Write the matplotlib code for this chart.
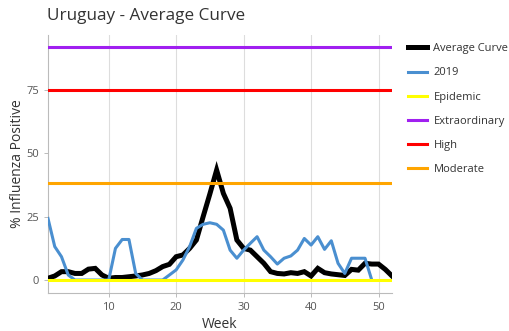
import numpy as np
import matplotlib
matplotlib.use("Agg")
import matplotlib.pyplot as plt

weeks = list(range(1, 53))
average_curve = [0.7, 1.6, 3.3, 3.3, 2.6, 2.6, 4.3, 4.6, 2.0, 0.7,
                 1.0, 1.0, 1.3, 1.6, 2.0, 2.6, 3.7, 5.3, 6.2, 9.2,
                 9.9, 12.5, 15.8, 25.0, 34.0, 43.4, 34.2, 28.3, 15.8, 12.5,
                 11.8, 9.2, 6.6, 3.3, 2.6, 2.4, 2.9, 2.6, 3.3, 1.6,
                 4.6, 2.9, 2.4, 2.1, 1.8, 4.2, 3.9, 6.6, 6.3, 6.3,
                 4.2, 1.6]
y2019 = [24.3, 13.2, 9.2, 2.0, 0, 0, 0, 0, 0, 0,
         12.5, 16.0, 16.0, 2.6, 0, 0, 0, 0, 2.0, 4.0,
         7.9, 13.2, 20.4, 22.0, 22.6, 22.0, 19.7, 11.8, 8.6, 11.8,
         14.5, 17.1, 11.8, 9.2, 6.3, 8.6, 9.5, 11.8, 16.4, 13.8,
         17.1, 12.1, 15.5, 6.6, 2.6, 8.6, 8.6, 8.6, 0, np.nan,
         np.nan, np.nan]
thresholds = {"Epidemic": 0.0, "Extraordinary": 92.0, "High": 75.0, "Moderate": 38.3}
threshold_colors = {"Epidemic": "#ffff00", "Extraordinary": "#a020f0",
                    "High": "#ff0000", "Moderate": "#ffa500"}

plt.rcParams['font.family'] = ['Open Sans', 'DejaVu Sans']

fig = plt.figure(figsize=(5.09, 3.31), dpi=100)
ax = fig.add_axes([48/509, 1-292.7/331, (392-48)/509, (292.7-35)/331])

ax.plot(weeks, average_curve, color="black", lw=3.6, label="Average Curve",
        solid_joinstyle="miter", zorder=3)
ax.plot(weeks, y2019, color="#4a8fd0", lw=2.2, label="2019", zorder=4)
for name, val in thresholds.items():
    ax.plot([weeks[0], weeks[-1]], [val, val], color=threshold_colors[name],
            lw=2.2, label=name, zorder=5)

ax.set_xlim(1, 52)
ax.set_ylim(-5, 96.7)
ax.set_xticks([10, 20, 30, 40, 50])
ax.set_yticks([0, 25, 50, 75])
ax.grid(axis="x", color="#dddddd", lw=0.8)
ax.set_axisbelow(True)
for s in ["top", "right"]:
    ax.spines[s].set_visible(False)
for s in ["left", "bottom"]:
    ax.spines[s].set_color("#bbbbbb")
    ax.spines[s].set_linewidth(0.8)
ax.tick_params(colors="#555555", labelsize=8, length=3, width=0.7)
ax.tick_params(axis="both", color="#bbbbbb")
ax.set_xlabel("Week", fontsize=10, color="#333333", labelpad=3)
ax.set_ylabel("% Influenza Positive", fontsize=10, color="#333333", labelpad=1)

fig.text(47/509, 1-16/331, "Uruguay - Average Curve", fontsize=12.3,
         color="#333333", va="center", ha="left")

leg = ax.legend(loc="upper left", bbox_to_anchor=(1.035, 0.985), frameon=False,
                fontsize=8, handlelength=1.7, handletextpad=0.55,
                labelspacing=1.18, borderaxespad=0.0)
for t in leg.get_texts():
    t.set_color("#333333")

fig.savefig("out.png", dpi=100)
